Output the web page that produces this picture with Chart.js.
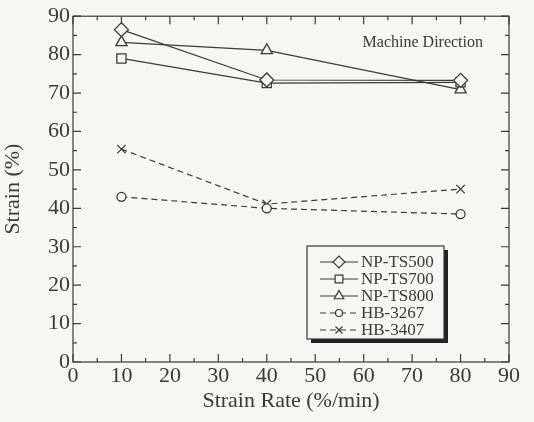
<!DOCTYPE html>
<html>
<head>
<meta charset="utf-8">
<script src="https://cdn.jsdelivr.net/npm/chart.js@4.4.0/dist/chart.umd.min.js"></script>
<style>
  html, body { margin: 0; padding: 0; background: #f6f6f4; }
  #wrap { width: 534px; height: 422px; }
</style>
</head>
<body>
<div id="wrap"><canvas id="myChart" width="534" height="422"></canvas></div>
<script>
// data
const strainRates = [10, 40, 80];
const npTs500 = [86.5, 73.4, 73.3];
const npTs700 = [79.0, 72.6, 72.8];
const npTs800 = [83.2, 81.1, 70.9];
const hb3267 = [43.0, 40.0, 38.5];
const hb3407 = [55.4, 41.1, 45.0];
const seriesNames = ['NP-TS500', 'NP-TS700', 'NP-TS800', 'HB-3267', 'HB-3407'];

const ink = '#3a3a3a';
const paper = '#f6f6f4';
const serif = '"Liberation Serif", "DejaVu Serif", serif';

function pts(ys) {
    return strainRates.map((x, i) => ({ x: x, y: ys[i] }));
}

function makeSet(label, ys, style, radius, dashed) {
    return {
        label: label,
        data: pts(ys),
        borderColor: ink,
        borderWidth: 1.2,
        borderDash: dashed ? [6, 4] : [],
        pointStyle: style,
        pointRadius: radius,
        pointBorderWidth: 1.3,
        pointBorderColor: ink,
        pointBackgroundColor: paper,
        fill: false,
        tension: 0
    };
}

const data = {
    datasets: [
        makeSet(seriesNames[0], npTs500, 'rectRot', 7, false),
        makeSet(seriesNames[1], npTs700, 'rect', 6.5, false),
        makeSet(seriesNames[2], npTs800, 'triangle', 6.5, false),
        makeSet(seriesNames[3], hb3267, 'circle', 4.5, true),
        makeSet(seriesNames[4], hb3407, 'crossRot', 6, true)
    ]
};

// frame with inward ticks on all four sides, the note and the legend box
const framePlugin = {
    id: 'frame',
    afterDraw(chart) {
        const { ctx, chartArea: { top, bottom, left, right }, scales: { x, y } } = chart;
        ctx.save();
        ctx.strokeStyle = ink;
        ctx.lineWidth = 1.2;
        ctx.setLineDash([]);
        ctx.strokeRect(left, top, right - left, bottom - top);

        const xt = x.ticks.map(t => t.value);
        const yt = y.ticks.map(t => t.value);
        ctx.beginPath();
        xt.forEach((v, i) => {
            const px = x.getPixelForValue(v);
            ctx.moveTo(px, bottom); ctx.lineTo(px, bottom - 8);
            ctx.moveTo(px, top); ctx.lineTo(px, top + 8);
            if (i < xt.length - 1) {
                const mx = x.getPixelForValue((v + xt[i + 1]) / 2);
                ctx.moveTo(mx, bottom); ctx.lineTo(mx, bottom - 4);
                ctx.moveTo(mx, top); ctx.lineTo(mx, top + 4);
            }
        });
        yt.forEach((v, i) => {
            const py = y.getPixelForValue(v);
            ctx.moveTo(left, py); ctx.lineTo(left + 8, py);
            ctx.moveTo(right, py); ctx.lineTo(right - 8, py);
            if (i < yt.length - 1) {
                const my = y.getPixelForValue((v + yt[i + 1]) / 2);
                ctx.moveTo(left, my); ctx.lineTo(left + 4, my);
                ctx.moveTo(right, my); ctx.lineTo(right - 4, my);
            }
        });
        ctx.stroke();

        // note in the upper right corner
        ctx.fillStyle = ink;
        ctx.font = '16px ' + serif;
        ctx.textAlign = 'right';
        ctx.textBaseline = 'middle';
        ctx.fillText('Machine Direction', right - 26, top + 27);

        // legend box with drop shadow
        const bx = 307, by = 246, bw = 137, bh = 93;
        ctx.fillStyle = '#222';
        ctx.fillRect(bx + 4, by + 4, bw, bh);
        ctx.fillStyle = paper;
        ctx.fillRect(bx, by, bw, bh);
        ctx.lineWidth = 1.2;
        ctx.strokeStyle = ink;
        ctx.strokeRect(bx, by, bw, bh);

        chart.data.datasets.forEach((ds, i) => {
            const cy = by + 16 + i * 17;
            ctx.strokeStyle = ink;
            ctx.lineWidth = 1.2;
            ctx.beginPath();
            ctx.setLineDash(ds.borderDash);
            ctx.moveTo(bx + 13, cy);
            ctx.lineTo(bx + 51, cy);
            ctx.stroke();
            ctx.setLineDash([]);
            ctx.fillStyle = paper;
            Chart.helpers.drawPoint(ctx, {
                pointStyle: ds.pointStyle,
                radius: ds.pointRadius - 1,
                rotation: 0,
                borderWidth: 1.2
            }, bx + 32, cy);
            ctx.fillStyle = ink;
            ctx.font = '17px ' + serif;
            ctx.textAlign = 'left';
            ctx.textBaseline = 'middle';
            ctx.fillText(ds.label, bx + 54, cy + 1);
        });
        ctx.restore();
    }
};

const config = {
    type: 'line',
    data,
    options: {
        responsive: false,
        animation: false,
        layout: { padding: { top: 15, right: 25, left: 0, bottom: 0 } },
        plugins: {
            legend: { display: false },
            tooltip: { enabled: false }
        },
        scales: {
            x: {
                type: 'linear',
                min: 0,
                max: 90,
                ticks: {
                    stepSize: 10,
                    color: ink,
                    padding: 1,
                    maxRotation: 0,
                    font: { family: serif, size: 22 }
                },
                grid: { display: false, drawTicks: false },
                border: { display: false },
                title: {
                    display: true,
                    text: 'Strain Rate (%/min)',
                    color: ink,
                    font: { family: serif, size: 22 },
                    padding: { top: 0, bottom: 8 }
                },
                afterFit(scale) { scale.height = 60; }
            },
            y: {
                min: 0,
                max: 90,
                ticks: {
                    stepSize: 10,
                    color: ink,
                    padding: 3,
                    font: { family: serif, size: 22 }
                },
                grid: { display: false, drawTicks: false },
                border: { display: false },
                title: {
                    display: true,
                    text: 'Strain (%)',
                    color: ink,
                    font: { family: serif, size: 22 },
                    padding: { top: 0, bottom: 0 }
                },
                afterFit(scale) { scale.width = 73; }
            }
        }
    },
    plugins: [framePlugin]
};

new Chart(document.getElementById('myChart'), config);
</script>
</body>
</html>
